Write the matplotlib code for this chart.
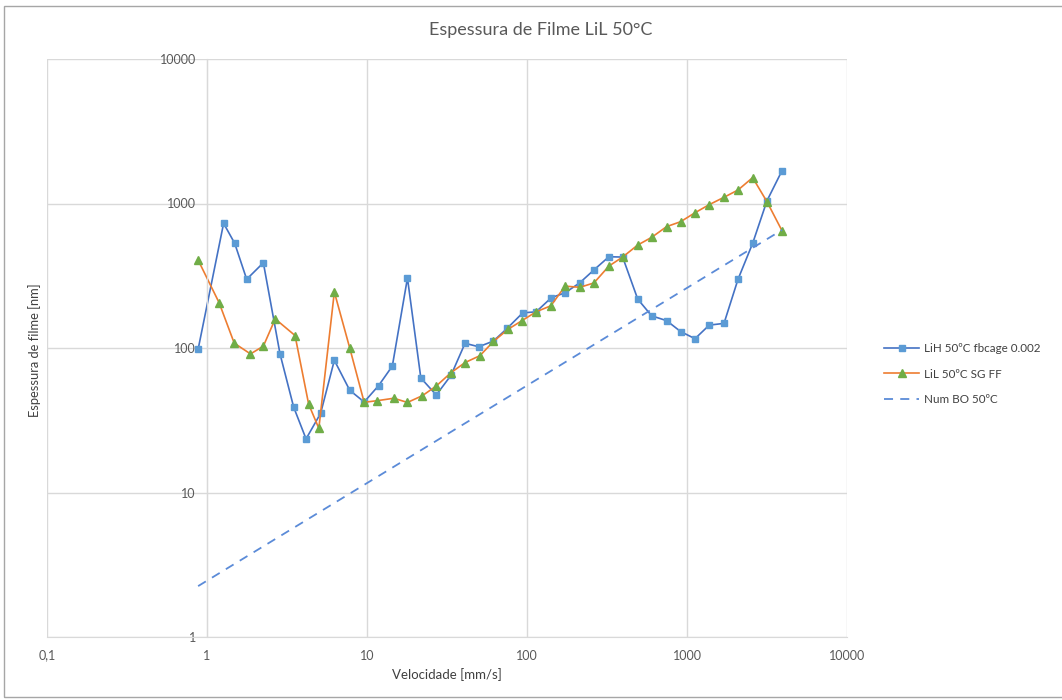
import matplotlib.pyplot as plt
from matplotlib.patches import Rectangle
from matplotlib.ticker import FixedLocator, FuncFormatter

plt.rcParams['font.family'] = ['Lato', 'DejaVu Sans']

# LiH 50ºC fbcage 0.002
lih_x = [0.88, 1.27, 1.49, 1.77, 2.25, 2.86, 3.48, 4.16, 5.13, 6.25, 7.8, 9.6,
         11.8, 14.4, 17.9, 21.7, 27.1, 33.5, 41, 49.9, 61.7, 75.3, 94, 114, 142,
         173, 214, 262, 325, 396, 492, 601, 746, 912, 1122, 1377, 1703, 2084,
         2572, 3162, 3925]
lih_y = [98, 729, 530, 299, 389, 91, 39, 23.5, 35.3, 82.2, 51, 42.3,
         54.8, 75, 305, 62, 47.3, 64.7, 107.8, 102, 111.7, 137, 175, 178, 223,
         241, 283, 347, 428, 426, 218, 167, 154.6, 130, 116, 144, 148, 299,
         530, 1045, 1687]

# LiL 50ºC SG FF
lil_x = [0.88, 1.19, 1.48, 1.87, 2.25, 2.67, 3.55, 4.32, 5.0, 6.25, 7.8, 9.6,
         11.6, 14.7, 17.9, 22.2, 27.1, 33.5, 41, 50.8, 61.7, 76, 93, 114, 141,
         173, 214, 262, 325, 396, 492, 601, 746, 912, 1122, 1377, 1703, 2084,
         2572, 3162, 3925]
lil_y = [406, 206, 108, 91, 103, 159, 122, 40.8, 27.8, 244, 100, 42.1,
         43.2, 44.9, 42, 46.8, 54.6, 67.5, 79.3, 88.5, 111, 134.6, 154.6, 178, 196,
         268, 263, 282, 369, 426, 516, 583, 692, 748, 863, 982, 1104, 1240,
         1510, 1028, 648]

# Num BO 50ºC
num_x = [0.88, 3925]
num_y = [2.25, 656]

x_ticks = [0.1, 1, 10, 100, 1000, 10000]
y_ticks = [1, 10, 100, 1000, 10000]


def fmt(v, pos):
    if v < 1:
        return ('%g' % v).replace('.', ',')
    return '%d' % round(v)


fig = plt.figure(figsize=(10.62, 7.0), dpi=100)
ax = fig.add_axes([47 / 1062, 1 - 637 / 700, 800 / 1062, 578 / 700])

ax.plot(lih_x, lih_y, color='#4472C4', lw=1.2, marker='s', ms=5,
        mfc='#5B9BD5', mec='#5B9BD5', label='LiH 50ºC fbcage 0.002')
ax.plot(lil_x, lil_y, color='#ED7D31', lw=1.2, marker='^', ms=5.5,
        mfc='#70AD47', mec='#70AD47', label='LiL 50ºC SG FF')
ax.plot(num_x, num_y, color='#5B8BD8', lw=1.3, ls=(0, (5, 4)),
        label='Num BO 50ºC')

ax.set_xscale('log')
ax.set_yscale('log')
ax.set_xlim(0.1, 10000)
ax.set_ylim(1, 10000)
for s in ['top', 'right']:
    ax.spines[s].set_visible(False)
ax.spines['left'].set_position(('data', 1))
ax.spines['left'].set_color('#D9D9D9')
ax.spines['bottom'].set_color('#D9D9D9')

ax.xaxis.set_major_locator(FixedLocator(x_ticks))
ax.yaxis.set_major_locator(FixedLocator(y_ticks))
ax.xaxis.set_major_formatter(FuncFormatter(fmt))
ax.yaxis.set_major_formatter(FuncFormatter(fmt))
ax.minorticks_off()
ax.tick_params(length=0, labelsize=9, colors='#595959')
ax.tick_params(axis='x', pad=9)
ax.tick_params(axis='y', pad=8)
ax.grid(True, color='#D9D9D9', lw=1)
ax.set_axisbelow(True)

fig.text(541 / 1062, 1 - 30 / 700, 'Espessura de Filme LiL 50°C', fontsize=13,
         color='#595959', ha='center', va='center')
fig.text(447 / 1062, 1 - 675 / 700, 'Velocidade [mm/s]', fontsize=9.5,
         color='#404040', ha='center', va='center')
fig.text(35 / 1062, 1 - 350 / 700, 'Espessura de filme [nm]', fontsize=9.3,
         color='#404040', ha='center', va='center', rotation=90)

leg = ax.legend(loc='center left', bbox_to_anchor=(1.033, 0.455), frameon=False,
                fontsize=8.4, labelspacing=1.25, handlelength=3.05,
                handletextpad=0.4)
for t in leg.get_texts():
    t.set_color('#404040')

fig.patches.append(Rectangle((4 / 1062, 3 / 700), 1060 / 1062, 691 / 700,
                             transform=fig.transFigure, fill=False,
                             edgecolor='#A6A6A6', lw=1))

fig.savefig('out.png', dpi=100)
